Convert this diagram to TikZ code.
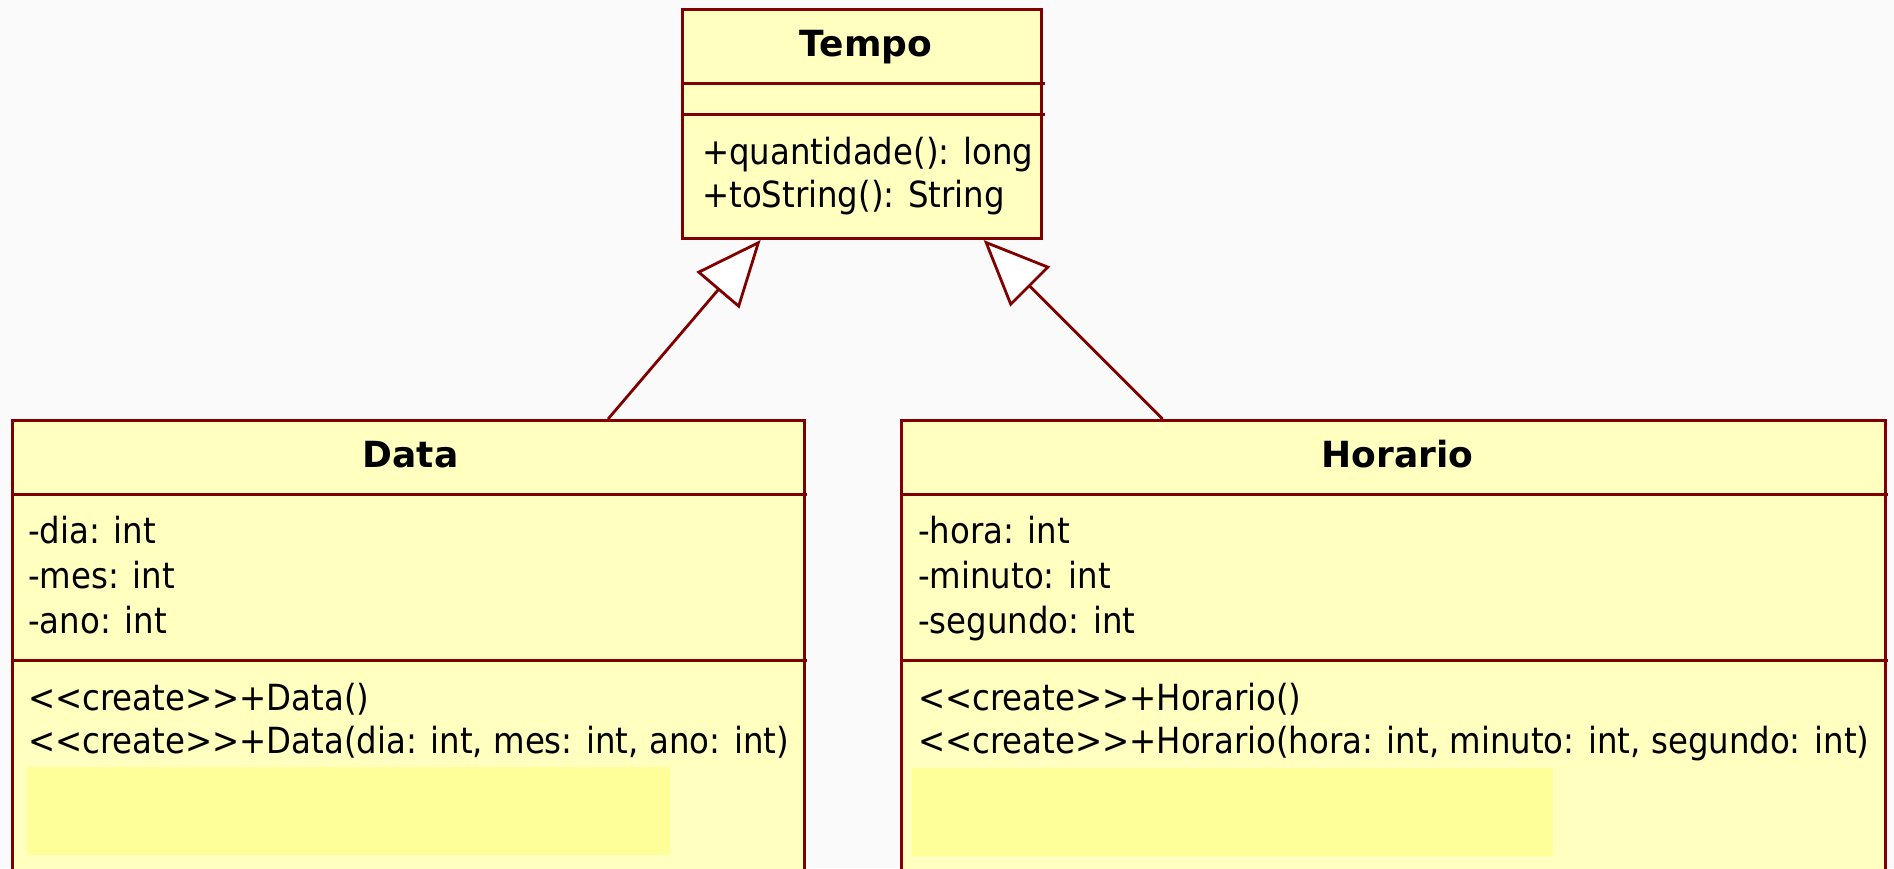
\documentclass[tikz,border=0pt]{standalone}
\usepackage{fontspec}
\setmainfont{DejaVu Sans Condensed}
\newfontfamily\titlefont{DejaVu Sans}
\usetikzlibrary{arrows.meta,calc,positioning}

\definecolor{umlred}{HTML}{800000}
\definecolor{umlfill}{HTML}{FFFFC0}
\definecolor{umlhide}{HTML}{FFFF99}
\definecolor{paper}{HTML}{FAFAFA}
\newcommand\umlstereo[1]{<\kern0pt<#1>\kern0pt>}

\begin{document}
\begin{tikzpicture}[x=1pt,y=-1pt,
        classbox/.style={draw=umlred,fill=umlfill,line width=3pt,rectangle,inner sep=0pt,anchor=north west},
        sepline/.style={draw=umlred,line width=3pt},
        member/.style={anchor=base west,inner sep=0pt,font=\fontsize{36}{44}\selectfont},
        classname/.style={anchor=base,inner sep=0pt,font=\fontsize{36}{44}\selectfont\titlefont\bfseries},
        hidebox/.style={fill=umlhide,draw=none},
        inherits/.style={draw=umlred,line width=2.8pt,-{Triangle[length=66pt,width=56pt,fill=white,line width=2.8pt]}}]
            \useasboundingbox (0,0) rectangle (1894,868);
            \clip (0,0) rectangle (1894,868);
            \fill[paper] (0,0) rectangle (1894,868);
            % Tempo
            \node[classbox,minimum width=359pt,minimum height=229pt] (tempo) at (681,8) {};
            \draw[sepline] ($(tempo.north west)+(0,75)$) -- ++(364,0);
            \draw[sepline] ($(tempo.north west)+(0,106)$) -- ++(364,0);
            \node[classname] (temponame) at ($(tempo.north)+(4,48)$) {Tempo};
            \node[member] (tempoq) at (702,164) {+quantidade(): long};
            \node[member] (tempos) at (702,207) {+toString(): String};
            % Data
            \node[classbox,minimum width=792pt,minimum height=480pt] (data) at (11,419) {};
            \draw[sepline] ($(data.north west)+(0,75)$) -- ++(796,0);
            \draw[sepline] ($(data.north west)+(0,241)$) -- ++(796,0);
            \node[classname] (dataname) at ($(data.north)+(2,48)$) {Data};
            \foreach \txt [count=\i] in {-dia: int,-mes: int,-ano: int}
                \node[member] (dataattr\i) at (28,498+45*\i) {\txt};
            \node[member] (datanew) at (28,710) {\umlstereo{create}+Data()};
            \node[member] (datanewargs) at (28,753) {\umlstereo{create}+Data(dia: int, mes: int, ano: int)};
            \fill[hidebox] (27,767) rectangle (670,855);
            % Horario
            \node[classbox,minimum width=984pt,minimum height=480pt] (horario) at (900,419) {};
            \draw[sepline] ($(horario.north west)+(0,75)$) -- ++(988,0);
            \draw[sepline] ($(horario.north west)+(0,241)$) -- ++(988,0);
            \node[classname] (horarioname) at ($(horario.north)+(4,48)$) {Horario};
            \foreach \txt [count=\i] in {-hora: int,-minuto: int,-segundo: int}
                \node[member] (horarioattr\i) at (918,498+45*\i) {\txt};
            \node[member] (horarionew) at (918,710) {\umlstereo{create}+Horario()};
            \node[member] (horarionewargs) at (918,753) {\umlstereo{create}+Horario(hora: int, minuto: int, segundo: int)};
            \fill[hidebox] (912,768) rectangle (1553,856);
            % generalizations
            \draw[inherits] ($(data.north west)!0.751!(data.north east)$) -- ($(tempo.south west)!0.22!(tempo.south east)$);
            \draw[inherits] ($(horario.north west)!0.266!(horario.north east)$) -- ($(tempo.south west)!0.836!(tempo.south east)$);
        \end{tikzpicture}
\end{document}
